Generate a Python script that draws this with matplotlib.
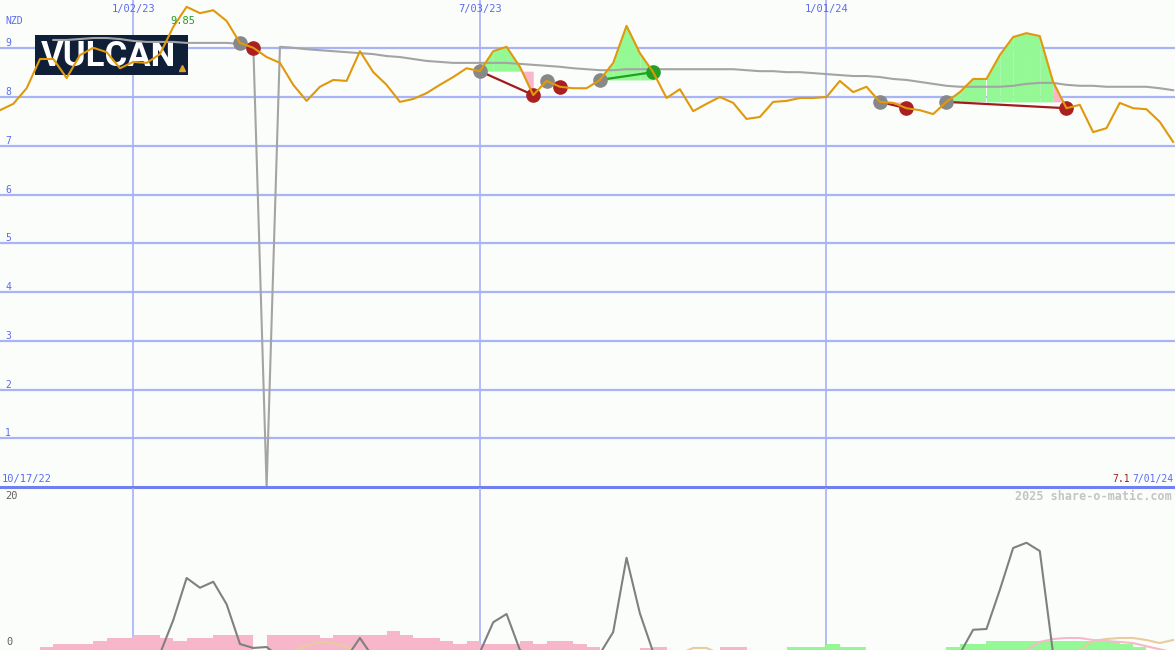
# weekly price chart with trade signals and oscillator panel
import numpy as np
import pandas as pd
import matplotlib
matplotlib.use("Agg")
import matplotlib.pyplot as plt
import matplotlib.transforms as mtransforms
from matplotlib.patches import Rectangle

nan = np.nan

# weekly closes (NZD)
weeks = pd.date_range("2022-10-24", periods=89, freq="7D")
price = [7.73, 7.86, 8.18, 8.78, 8.78, 8.39, 8.86, 9.01, 8.92, 8.59,
         8.72, 8.70, 8.88, 9.44, 9.85, 9.72, 9.78, 9.56, 9.11, 9.01,
         8.82, 8.70, 8.25, 7.92, 8.21, 8.35, 8.33, 8.94, 8.51, 8.25,
         7.90, 7.96, 8.08, 8.25, 8.41, 8.59, 8.53, 8.94, 9.03, 8.62,
         8.04, 8.33, 8.21, 8.18, 8.18, 8.35, 8.70, 9.46, 8.90, 8.51,
         7.98, 8.16, 7.71, 7.86, 8.00, 7.88, 7.55, 7.59, 7.90, 7.92,
         7.98, 7.98, 8.00, 8.33, 8.10, 8.21, 7.90, 7.88, 7.77, 7.73,
         7.65, 7.90, 8.10, 8.37, 8.37, 8.86, 9.23, 9.31, 9.25, 8.31,
         7.77, 7.84, 7.28, 7.36, 7.88, 7.77, 7.75, 7.49, 7.08]

# long moving average (with the data glitch)
avg = [nan, nan, nan, nan, 9.17, 9.17, 9.19, 9.21, 9.21, 9.19,
       9.15, 9.13, 9.13, 9.13, 9.11, 9.11, 9.11, 9.11, 9.09, 9.07,
       0.00, 9.03, 9.01, 8.98, 8.96, 8.94, 8.92, 8.90, 8.88, 8.84,
       8.82, 8.78, 8.74, 8.72, 8.70, 8.70, 8.70, 8.70, 8.70, 8.68,
       8.66, 8.64, 8.62, 8.59, 8.57, 8.55, 8.55, 8.57, 8.57, 8.57,
       8.57, 8.57, 8.57, 8.57, 8.57, 8.57, 8.55, 8.53, 8.53, 8.51,
       8.51, 8.49, 8.47, 8.45, 8.43, 8.43, 8.41, 8.37, 8.35, 8.31,
       8.27, 8.23, 8.21, 8.21, 8.21, 8.21, 8.23, 8.27, 8.29, 8.29,
       8.25, 8.23, 8.23, 8.21, 8.21, 8.21, 8.21, 8.18, 8.14]

# trades: (entry week, exit week)
trades = [(18, 19), (36, 40), (41, 42), (45, 49), (66, 68), (71, 80)]

# lower panel
bars_down = [0, 0, 0, 0.4, 0.8, 0.8, 0.8, 1.2, 1.6, 1.6,
             2.0, 2.0, 1.6, 1.2, 1.6, 1.6, 2.0, 2.0, 2.0, 0,
             2.0, 2.0, 2.0, 2.0, 1.6, 2.0, 2.0, 2.0, 2.0, 2.5,
             2.0, 1.6, 1.6, 1.2, 0.8, 1.2, 0.8, 0.8, 0.8, 1.2,
             0.8, 1.2, 1.2, 0.8, 0.4, 0, 0, 0, 0.27, 0.4,
             0, 0, 0, 0, 0.4, 0.4, 0, 0, 0, 0,
             0, 0, 0, 0, 0, 0, 0, 0, 0, 0,
             0, 0, 0, 0, 0, 0, 0, 0, 0, 0,
             0, 0, 0, 0, 0, 0, 0, 0, 0]
bars_up = [0, 0, 0, 0, 0, 0, 0, 0, 0, 0,
           0, 0, 0, 0, 0, 0, 0, 0, 0, 0,
           0, 0, 0, 0, 0, 0, 0, 0, 0, 0,
           0, 0, 0, 0, 0, 0, 0, 0, 0, 0,
           0, 0, 0, 0, 0, 0, 0, 0, 0, 0,
           0, 0, 0, 0, 0, 0, 0, 0, 0, 0.4,
           0.4, 0.4, 0.8, 0.4, 0.4, 0, 0, 0, 0, 0,
           0, 0.4, 0.8, 0.8, 1.2, 1.2, 1.2, 1.2, 1.2, 1.2,
           1.2, 1.2, 1.2, 1.2, 0.8, 0.4, 0, 0, 0]
osc = [-1, -1, -1, -1, -1, -1, -1, -1, -1, -1,
       -1, -1, -0.5, 4.0, 9.6, 8.3, 9.1, 6.1, 0.8, 0.27,
       0.4, -1, -1, -1, -1, -1, -1, 1.6, -1, -1,
       -1, -1, -1, -1, -1, -1, -0.3, 3.7, 4.8, 0.0,
       -1, -1, -1, -1, -1, -0.5, 2.4, 12.3, 4.9, -0.3,
       -1, -1, -1, -1, -1, -1, -1, -1, -1, -1,
       -1, -1, -1, -1, -1, -1, -1, -1, -1, -1,
       -1, -1, -0.5, 2.7, 2.8, 8.0, 13.6, 14.3, 13.2, -0.5,
       -1, -1, -1, -1, -1, -1, -1, -1, -1]
pink_line = [nan] * 76 + [-1, 0.0, 1.07, 1.47, 1.6, 1.6, 1.33, 1.2, 1.07,
                          0.93, 0.5, 0.1, -0.3]
tan_line = ([nan] * 21 + [-1, -0.1, 0.6, 1.07, 0.9, 0.4, -0.3]
            + [-1] * 23 + [-0.5, 0.27, 0.27, -0.5] + [-1] * 26
            + [0.0, 1.2, 1.47, 1.6, 1.6, 1.33, 0.93, 1.33])

grid_dates = ["2023-01-02", "2023-07-03", "2024-01-01"]
grid_labels = ["1/02/23", "7/03/23", "1/01/24"]

# colours
bg = "#fbfdfb"
blue_txt = "#5a6af0"
grid_c = "#a8b4f4"
orange = "#e0980c"
green_fill = "#94f894"
pink_fill = "#f8b6ca"
mono = "DejaVu Sans Mono"

fig = plt.figure(figsize=(11.75, 6.5), dpi=100)
fig.patch.set_facecolor(bg)
ax = fig.add_axes([0, 163 / 650, 1, 487 / 650])
ax2 = fig.add_axes([0, 0, 1, 162 / 650], sharex=ax)
for a in (ax, ax2):
    a.set_facecolor(bg)
    a.axis("off")

ax.set_xlim(pd.Timestamp("2022-10-24"), pd.Timestamp("2024-07-02"))
ax.set_ylim(0, 9.99)
ax2.set_ylim(0, 21.6)

# grid
for v in range(1, 10):
    ax.axhline(v, color=grid_c, lw=1.6, zorder=1)
ax.axhline(0, color="#7080f0", lw=2.2, zorder=6, clip_on=False)
for d in grid_dates:
    ax.axvline(pd.Timestamp(d), color="#a8b0f8", lw=1.2, zorder=1)
    ax2.axvline(pd.Timestamp(d), color="#a8b0f8", lw=1.2, zorder=1)

# logo box
ax.add_patch(Rectangle((35 / 1175, (487 - 75) / 487), 153 / 1175, 40 / 487,
                       transform=ax.transAxes, facecolor="#0f1f38",
                       edgecolor="none", zorder=1.5))
ax.text(108 / 1175, (487 - 56) / 487, "VULCAN", transform=ax.transAxes,
        family=["Roboto", "DejaVu Sans"], fontweight="bold",
        fontsize=25, color="white", ha="center", va="center", zorder=1.6)
ax.plot([182 / 1175], [(487 - 68) / 487], marker="^", ms=5, color="#e0a030",
        transform=ax.transAxes, zorder=1.6)

# trades
for a_i, b_i in trades:
    e = price[a_i]
    for k in range(a_i, b_i):
        c = green_fill if price[k + 1] >= e else pink_fill
        ax.fill_between(weeks[k:k + 2], price[k:k + 2], e, color=c, lw=0, zorder=2)
    won = price[b_i] > e
    ax.plot([weeks[a_i], weeks[b_i]], [e, price[b_i]],
            color="#22a022" if won else "#a01c1c", lw=1.6, zorder=3.5)
    ax.plot(weeks[a_i], e, "o", ms=9.5, color="#888888", zorder=4)
    ax.plot(weeks[b_i], price[b_i], "o", ms=9.5,
            color="#22a022" if won else "#aa2020", zorder=4)

ax.plot(weeks, avg, color="#a4a4a4", lw=1.5, zorder=3)
ax.plot(weeks, price, color=orange, lw=1.5, zorder=5)

# labels
ylab = mtransforms.blended_transform_factory(ax.transAxes, ax.transData)
for v in range(1, 10):
    ax.text(5 / 1175, v + 0.1, str(v), transform=ylab, color=blue_txt,
            family=mono, fontsize=7, ha="left", va="center")
ax.text(5 / 1175, 9.56, "NZD", transform=ylab, color=blue_txt,
        family=mono, fontsize=7, ha="left", va="center")
for d, lab in zip(grid_dates, grid_labels):
    ax.text(pd.Timestamp(d), 9.81, lab, color=blue_txt, family=mono,
            fontsize=7.5, ha="center", va="center")
imax = int(np.argmax(price))
ax.text(weeks[imax] - pd.Timedelta(days=2), 9.56, f"{price[imax]:.2f}",
        color="#22a022", family=mono, fontsize=7.5, ha="center", va="center", zorder=6)
ax.text(2 / 1175, 0.16, "10/17/22", transform=ylab, color=blue_txt,
        family=mono, fontsize=7.5, ha="left", va="center")
ax.text(1173 / 1175, 0.16, "7/01/24", transform=ylab, color=blue_txt,
        family=mono, fontsize=7, ha="right", va="center")
ax.text(1130 / 1175, 0.16, f"{price[-1]:.1f}", transform=ylab, color="#a01c1c",
        family=mono, fontsize=7, ha="right", va="center")

# lower panel
ax2.bar(weeks, bars_down, width=7, align="edge", color=pink_fill, lw=0, zorder=2)
ax2.bar(weeks, bars_up, width=7, align="edge", color=green_fill, lw=0, zorder=2)
ax2.plot(weeks, tan_line, color="#e6cca0", lw=1.5, zorder=3)
ax2.plot(weeks, pink_line, color="#f8b8c8", lw=1.5, zorder=3)
ax2.plot(weeks, osc, color="#808080", lw=1.5, zorder=4)

ylab2 = mtransforms.blended_transform_factory(ax2.transAxes, ax2.transData)
ax2.text(5 / 1175, 20.5, "20", transform=ylab2, color="#606060",
         family=mono, fontsize=7.5, ha="left", va="center")
ax2.text(6 / 1175, 1.07, "0", transform=ylab2, color="#606060",
         family=mono, fontsize=7.5, ha="left", va="center")
ax2.text(1172 / 1175, 20.5, "2025 share-o-matic.com", transform=ylab2,
         color="#c4c4c4", family=mono, fontsize=8.5, fontweight="bold",
         ha="right", va="center")

fig.savefig("out.png", dpi=100, facecolor=bg)
